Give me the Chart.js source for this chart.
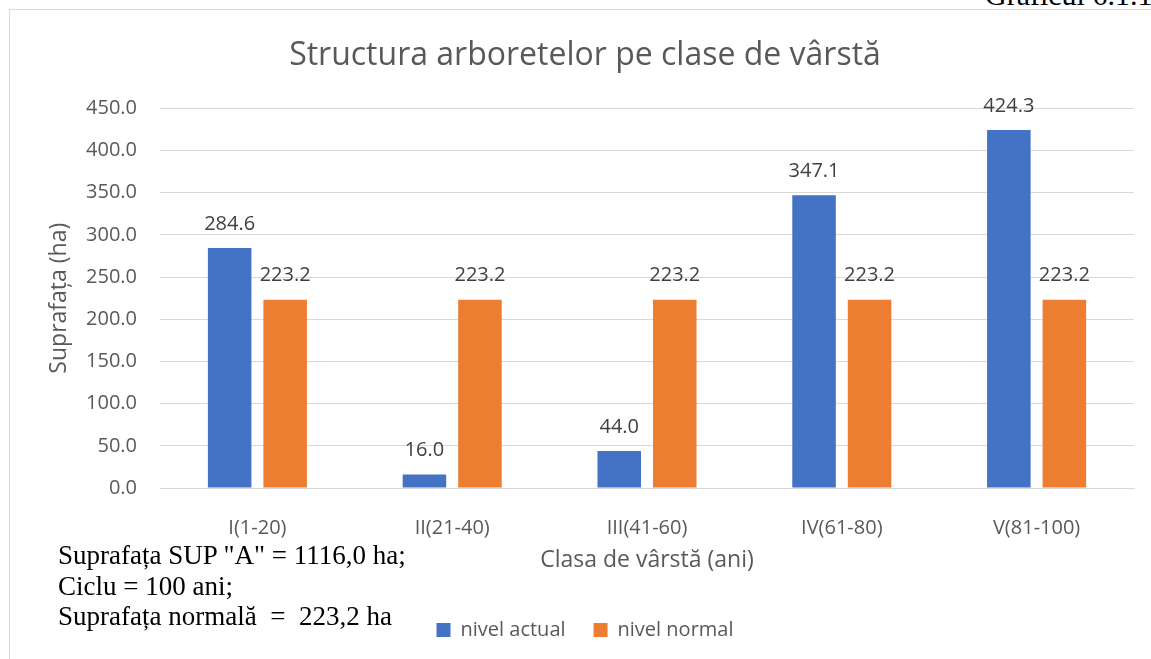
<!DOCTYPE html>
<html lang="ro">
<head>
<meta charset="utf-8">
<title>Structura arboretelor pe clase de vârstă</title>
<script src="https://cdn.jsdelivr.net/npm/chart.js@4.4.0/dist/chart.umd.min.js"></script>
<style>
  html, body { margin: 0; padding: 0; background: #fff; overflow: hidden; }
  body { width: 1151px; height: 659px; position: relative; }
  #frame {
    position: absolute; left: 9px; top: 9px; width: 1300px; height: 800px;
    border-top: 1px solid #d9d9d9; border-left: 1px solid #d9d9d9;
  }
  #chart { position: absolute; left: 0; top: 0; }
  .serif {
    position: absolute; font-family: "Liberation Serif", "Times New Roman", serif;
    font-size: 27px; line-height: 30.5px; color: #000; white-space: pre;
  }
  #note { left: 58px; top: 540px; }
  #caption { left: 985px; top: -20px; font-size: 30px; }
</style>
</head>
<body>
<div id="frame"></div>
<div id="caption" class="serif">Graficul 6.1.1</div>
<canvas id="chart" width="1151" height="659"></canvas>
<div id="note" class="serif">Suprafața SUP "A" = 1116,0 ha;
Ciclu = 100 ani;
Suprafața normală  =  223,2 ha</div>

<script>
// Date grafic
const categories = ['I(1-20)', 'II(21-40)', 'III(41-60)', 'IV(61-80)', 'V(81-100)'];
const nivelActual = [284.6, 16.0, 44.0, 347.1, 424.3];
const nivelNormal = [223.2, 223.2, 223.2, 223.2, 223.2];
const seriesNames = ['nivel actual', 'nivel normal'];
const yTicks = [0, 50, 100, 150, 200, 250, 300, 350, 400, 450];

const FONT = "'Open Sans', sans-serif";
const GREY = '#595959';

// value labels above the bars
const barLabels = {
  id: 'barLabels',
  afterDatasetsDraw(chart) {
    const ctx = chart.ctx;
    ctx.save();
    ctx.font = '20px ' + FONT;
    ctx.fillStyle = '#404040';
    ctx.textAlign = 'center';
    ctx.textBaseline = 'middle';
    chart.data.datasets.forEach((ds, i) => {
      chart.getDatasetMeta(i).data.forEach((bar, j) => {
        ctx.fillText(ds.data[j].toFixed(1), bar.x, bar.y - 24);
      });
    });
    ctx.restore();
  }
};

function drawChart() {
  const ctx = document.getElementById('chart').getContext('2d');
  new Chart(ctx, {
    type: 'bar',
    data: {
      labels: categories,
      datasets: [
        {
          label: seriesNames[0],
          data: nivelActual,
          backgroundColor: '#4472C4',
          categoryPercentage: 0.57,
          barPercentage: 0.784
        },
        {
          label: seriesNames[1],
          data: nivelNormal,
          backgroundColor: '#ED7D31',
          categoryPercentage: 0.57,
          barPercentage: 0.784
        }
      ]
    },
    options: {
      responsive: false,
      animation: false,
      layout: {
        padding: { left: 36, right: 17, top: 0, bottom: 9 }
      },
      plugins: {
        title: {
          display: true,
          text: 'Structura arboretelor pe clase de vârstă',
          color: GREY,
          font: { family: FONT, size: 32, weight: 'normal' },
          padding: { top: 37, bottom: 33 }
        },
        legend: {
          position: 'bottom',
          labels: {
            boxWidth: 14,
            boxHeight: 14,
            padding: 28,
            color: GREY,
            font: { family: FONT, size: 20 }
          }
        },
        tooltip: { enabled: false }
      },
      scales: {
        x: {
          grid: { display: false },
          border: { display: true, color: '#d9d9d9', width: 1 },
          ticks: {
            color: GREY,
            padding: 20,
            font: { family: FONT, size: 20 }
          },
          title: {
            display: true,
            text: 'Clasa de vârstă (ani)',
            color: GREY,
            font: { family: FONT, size: 23 },
            padding: { top: 0, bottom: 18 }
          },
          afterFit(scale) { scale.height = 104; }
        },
        y: {
          min: 0,
          max: 450,
          afterBuildTicks(scale) {
            scale.ticks = yTicks.map(v => ({ value: v }));
          },
          grid: { color: '#d9d9d9', lineWidth: 1, drawTicks: false },
          border: { display: false },
          ticks: {
            color: GREY,
            padding: 23,
            font: { family: FONT, size: 20 },
            callback: function(value) {
              return Number(value).toFixed(1);
            }
          },
          title: {
            display: true,
            text: 'Suprafața (ha)',
            color: GREY,
            font: { family: FONT, size: 23 },
            padding: { top: 10, bottom: 0 }
          },
          afterFit(scale) { scale.width = 124; }
        }
      }
    },
    plugins: [barLabels]
  });
}

if (document.fonts && document.fonts.load) {
  Promise.all([
    document.fonts.load("20px 'Open Sans'"),
    document.fonts.load("26px 'Liberation Serif'")
  ]).then(drawChart, drawChart);
} else {
  drawChart();
}
</script>
</body>
</html>
